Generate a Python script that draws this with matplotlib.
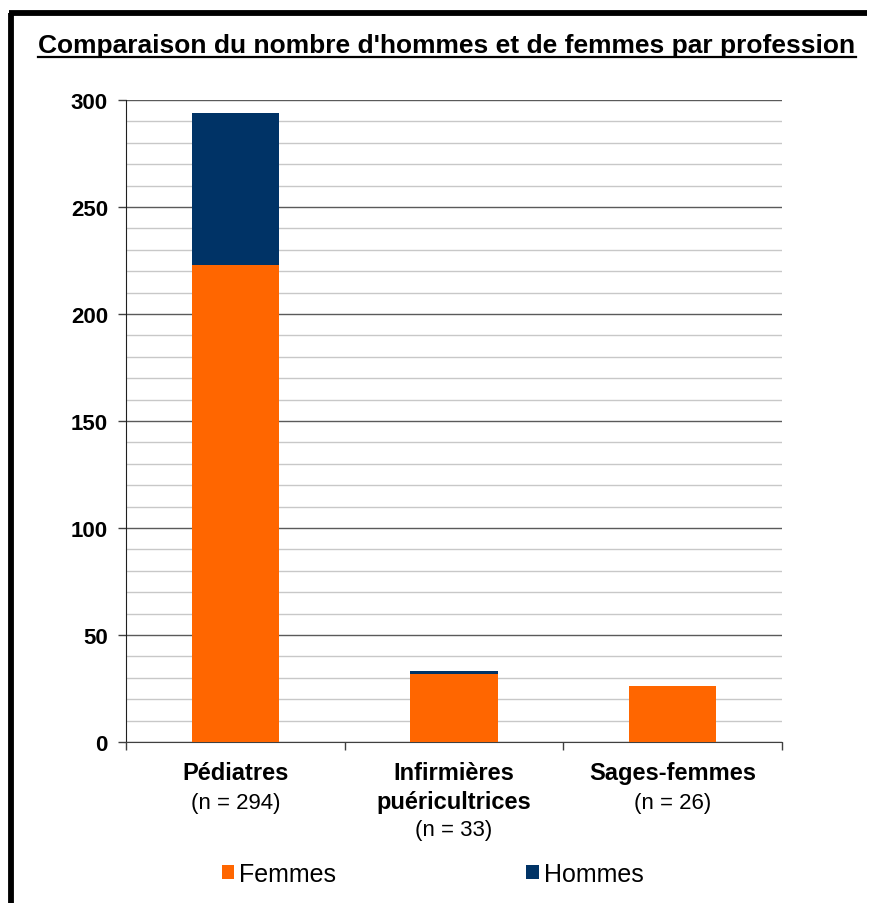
import matplotlib
matplotlib.use("Agg")
import matplotlib.pyplot as plt
from matplotlib.patches import Patch
from matplotlib.lines import Line2D
import numpy as np

# data
categories = ["Pédiatres", "Infirmières\npuéricultrices", "Sages-femmes"]
n_labels = ["(n = 294)", "(n = 33)", "(n = 26)"]
femmes = [223, 32, 26]
hommes = [71, 1, 0]
y_ticks = [0, 50, 100, 150, 200, 250, 300]

ORANGE = "#FF6600"
NAVY = "#003366"

plt.rcParams['font.family'] = ['Liberation Sans', 'DejaVu Sans']

fig = plt.figure(figsize=(8.70, 9.04), dpi=100)
ax = fig.add_axes([0.1448, 0.1781, 0.7541, 0.7102])

x = np.arange(len(categories))
ax.bar(x, femmes, width=0.4, color=ORANGE, zorder=3)
ax.bar(x, hommes, width=0.4, bottom=femmes, color=NAVY, zorder=3)

ax.set_xlim(-0.5, len(categories) - 0.5)
ax.set_ylim(0, 300)
ax.set_yticks(y_ticks)
ax.set_yticks(np.arange(0, 301, 10), minor=True)
ax.tick_params(axis='y', which='minor', length=0)
ax.tick_params(axis='y', which='major', length=6, width=1, color='#404040',
               labelsize=16, pad=7)
for lab in ax.get_yticklabels():
    lab.set_fontweight('bold')
ax.grid(axis='y', which='minor', color='#C8C8C8', linewidth=1, zorder=0)
ax.grid(axis='y', which='major', color='#5A5A5A', linewidth=1, zorder=1)

# x ticks at category boundaries
ax.set_xticks(np.arange(-0.5, len(categories), 1.0))
ax.set_xticklabels([])
ax.tick_params(axis='x', length=6, width=1, color='#404040')

for side in ['top', 'right']:
    ax.spines[side].set_visible(False)
ax.spines['left'].set_color('#202020')
ax.spines['bottom'].set_color('#404040')

trans = ax.get_xaxis_transform()
for i, (cat, n) in enumerate(zip(categories, n_labels)):
    ax.text(i, -0.030, cat, transform=trans, ha='center', va='top',
            fontsize=17, fontweight='bold', linespacing=1.3)
    nlines = cat.count("\n") + 1
    ax.text(i, -0.037 - 0.0415 * nlines, n, transform=trans, ha='center',
            va='top', fontsize=16)

# title
fig.text(0.5138, 0.949, "Comparaison du nombre d'hommes et de femmes par profession",
         ha='center', va='center', fontsize=19, fontweight='bold')
fig.add_artist(Line2D([0.044, 0.984], [0.9355, 0.9355], color='black',
                      linewidth=1.6, transform=fig.transFigure))

# legend
handles = [Patch(facecolor=ORANGE, label="Femmes"),
           Patch(facecolor=NAVY, label="Hommes")]
fig.legend(handles=handles, loc='center', bbox_to_anchor=(0.497, 0.032),
           ncol=2, frameon=False, fontsize=18, handlelength=0.5,
           handleheight=0.5, handletextpad=0.2, columnspacing=7.6)

# frame (left and top edges)
fig.add_artist(Line2D([0.0132, 0.0132], [0.0, 0.9845], color='black',
                      linewidth=4.2, transform=fig.transFigure,
                      solid_capstyle='butt'))
fig.add_artist(Line2D([0.0103, 0.997], [0.9845, 0.9845], color='black',
                      linewidth=4.2, transform=fig.transFigure,
                      solid_capstyle='butt'))

fig.savefig("out.png", dpi=100)
